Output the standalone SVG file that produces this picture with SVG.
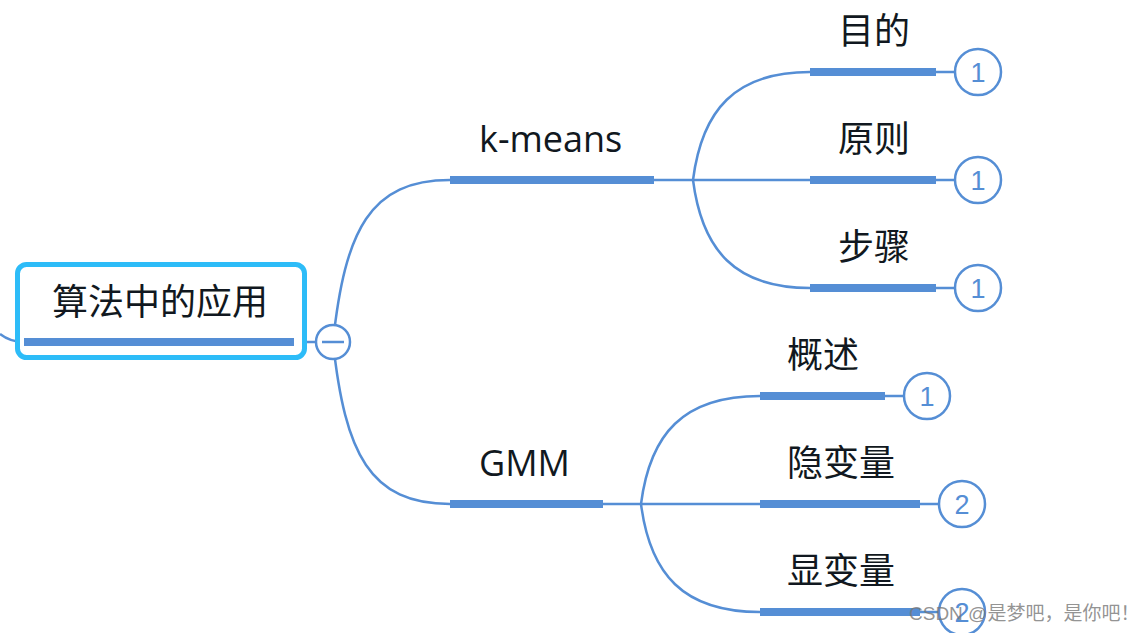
<svg xmlns="http://www.w3.org/2000/svg" width="1148" height="633" viewBox="0 0 1148 633">
<style>
.ln{fill:none;stroke:#558ed5;stroke-width:2.5}
.bar{stroke:#558ed5;stroke-width:8}
.lbl{font-family:"Open Sans","Noto Sans CJK SC",sans-serif;font-size:36px;fill:#111820}
.cnt circle{fill:#fff;stroke:#558ed5;stroke-width:2.5}
.cnt text{font-family:"Liberation Sans",Arial,sans-serif;font-size:27px;fill:#558ed5;text-anchor:middle}
</style>
<rect width="1148" height="633" fill="#fff"/>
<g id="connectors">
<path class="ln" d="M0,334 Q10,342 24,342"/>
<path class="ln" d="M294,342 H333"/>
<path class="ln" d="M333,342 C345,230 370,180 450,180"/>
<path class="ln" d="M333,342 C345,454 370,504 450,504"/>
<path class="ln" d="M654,180 H693"/>
<path class="ln" d="M693,180 C702,110 735,72 810,72"/>
<path class="ln" d="M693,180 H810"/>
<path class="ln" d="M693,180 C702,250 735,288 810,288"/>
<path class="ln" d="M603,504 H641"/>
<path class="ln" d="M641,504 C650,434 683,396 760,396"/>
<path class="ln" d="M641,504 H760"/>
<path class="ln" d="M641,504 C650,574 683,612 760,612"/>
<path class="ln" d="M936,72 H955 M936,180 H955 M936,288 H955 M885,396 H905 M920,504 H940 M920,612 H940"/>
</g>
<g id="root">
<rect x="17.5" y="264.5" width="287" height="93" rx="9" fill="#fff" stroke="#2dbcf8" stroke-width="5"/>
<text class="lbl" x="52" y="315">算法中的应用</text>
<line class="bar" x1="24" y1="342" x2="294" y2="342"/>
</g>
<g id="collapse">
<circle cx="333" cy="342" r="17" fill="#fff" stroke="#558ed5" stroke-width="2.5"/>
<line x1="322" y1="342" x2="344" y2="342" stroke="#558ed5" stroke-width="2.5"/>
</g>
<g id="kmeans">
<text class="lbl" x="479" y="152">k-means</text>
<line class="bar" x1="450" y1="180" x2="654" y2="180"/>
</g>
<g id="gmm">
<text class="lbl" x="479" y="476">GMM</text>
<line class="bar" x1="450" y1="504" x2="603" y2="504"/>
</g>
<g id="mudi">
<text class="lbl" x="838" y="44">目的</text>
<line class="bar" x1="810" y1="72" x2="936" y2="72"/>
<g class="cnt"><circle cx="978" cy="72" r="23"/><text x="978" y="82">1</text></g>
</g>
<g id="yuanze">
<text class="lbl" x="838" y="152">原则</text>
<line class="bar" x1="810" y1="180" x2="936" y2="180"/>
<g class="cnt"><circle cx="978" cy="180" r="23"/><text x="978" y="190">1</text></g>
</g>
<g id="buzhou">
<text class="lbl" x="838" y="260">步骤</text>
<line class="bar" x1="810" y1="288" x2="936" y2="288"/>
<g class="cnt"><circle cx="978" cy="288" r="23"/><text x="978" y="298">1</text></g>
</g>
<g id="gaishu">
<text class="lbl" x="787" y="368">概述</text>
<line class="bar" x1="760" y1="396" x2="885" y2="396"/>
<g class="cnt"><circle cx="927" cy="396" r="23"/><text x="927" y="406">1</text></g>
</g>
<g id="yinbianliang">
<text class="lbl" x="787" y="476">隐变量</text>
<line class="bar" x1="760" y1="504" x2="920" y2="504"/>
<g class="cnt"><circle cx="962" cy="504" r="23"/><text x="962" y="514">2</text></g>
</g>
<g id="xianbianliang">
<text class="lbl" x="787" y="584">显变量</text>
<line class="bar" x1="760" y1="612" x2="920" y2="612"/>
<g class="cnt"><circle cx="962" cy="612" r="23"/><text x="962" y="622">2</text></g>
</g>
<text x="909" y="620" font-family="'Liberation Sans','Noto Sans CJK SC',sans-serif" font-size="19" fill="#777" fill-opacity="0.8">CSDN @是梦吧，是你吧！</text>
</svg>
